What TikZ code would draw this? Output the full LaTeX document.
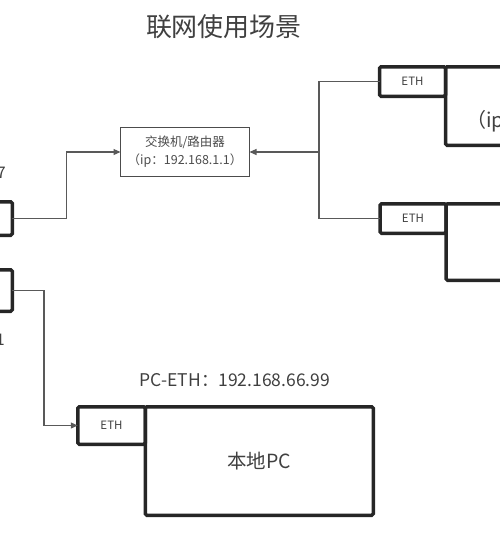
\documentclass[tikz,border=0pt]{standalone}
\usepackage{fontspec}
\setmainfont{Noto Sans CJK SC}
\usetikzlibrary{positioning, arrows.meta}

\begin{document}
\begin{tikzpicture}[
    x=1pt, y=-1pt,
    >={Triangle[length=7pt, width=6pt]},
    ethbox/.style={draw=black!85, line width=3.5pt, rounded corners=1.5pt, minimum width=66pt, minimum height=29.5pt, inner sep=0pt, outer sep=0pt, font=\fontsize{11.5}{13}\selectfont, text=black!75},
    hostbox/.style={draw=black!85, line width=3.5pt, rounded corners=1.5pt, inner sep=0pt, outer sep=0pt, text=black!75},
    switchbox/.style={draw=black!70, line width=0.8pt, minimum width=129pt, minimum height=49pt, inner sep=0pt, outer sep=0pt, align=center, font=\fontsize{12.5}{18}\selectfont, text=black!70},
    wire/.style={draw=black!65, line width=1.1pt},
    lbl/.style={inner sep=0pt, text=black!75},
]

% ===== Canvas =====
\useasboundingbox (0,0) rectangle (500,550);
\clip (0,0) rectangle (500,550);

% ===== Title =====
\node[lbl, font=\fontsize{26}{30}\selectfont] (title) at (224,27) {联网使用场景};

% ===== Switch / router =====
\node[switchbox] (switch) at (185,152) {交换机/路由器\\（ip：192.168.1.1）};

% ===== Right side hosts =====
\node[ethbox] (ethA) at (412.5,81.5) {ETH};
\node[hostbox, minimum width=150pt, minimum height=78.5pt, below right=0pt and 0pt of ethA.north east] (hostA) {};
\node[lbl, anchor=base west, font=\fontsize{20}{24}\selectfont] (ipA) at (466,127) {（ip};

\node[ethbox] (ethB) at (413,218.5) {ETH};
\node[hostbox, minimum width=150pt, minimum height=76.5pt, below right=0pt and 0pt of ethB.north east] (hostB) {};

% ===== Left side ports =====
\node[hostbox, minimum width=66pt, minimum height=33.5pt] (lanA) at (-20.75,218.5) {};
\node[lbl, anchor=east, font=\fontsize{16}{19}\selectfont] (ipLanA) at (6,173) {7};

\node[hostbox, minimum width=66pt, minimum height=41.5pt] (lanB) at (-20.75,290.5) {};
\node[lbl, anchor=east, font=\fontsize{16}{19}\selectfont] (ipLanB) at (5,340) {1};

% ===== Local PC =====
\node[lbl, font=\fontsize{17.5}{20}\selectfont] (pcip) at (235,380) {PC-ETH：192.168.66.99};
\node[ethbox, minimum width=67.5pt, minimum height=37.5pt] (ethPC) at (111.5,425.5) {ETH};
\node[hostbox, minimum width=228pt, minimum height=108.5pt, below right=0pt and 0pt of ethPC.north east, font=\fontsize{19.5}{23}\selectfont] (pc) {本地PC};

% ===== Wires =====
\coordinate (hub) at (319,152);
\draw[wire] (ethA.west) -| (hub) |- (ethB.west);
\draw[wire, ->] (hub) -- (switch.east);
\draw[wire, ->] (lanA.east) -- ++(54,0) |- (switch.west);
\draw[wire, ->] (lanB.east) -- ++(31.75,0) |- (ethPC.west);

\end{tikzpicture}
\end{document}
